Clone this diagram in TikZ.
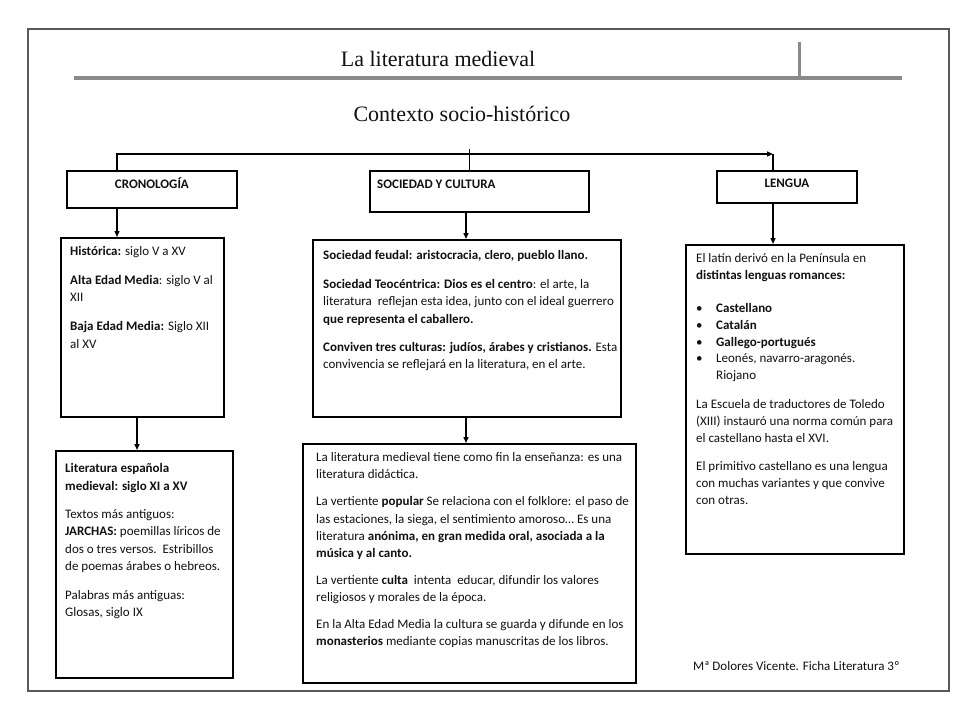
\documentclass[tikz,border=0pt]{standalone}
\usepackage{fontspec}
\setmainfont{Carlito}
\newfontfamily\titlefont{Liberation Serif}
\usetikzlibrary{arrows.meta,calc}
\definecolor{ink}{HTML}{111111}
\definecolor{framegray}{HTML}{5A5A5A}
\definecolor{rulegray}{HTML}{8A8A8A}
\begin{document}
\begin{tikzpicture}[x=1bp,y=-1bp,
  cbox/.style={draw=black, line width=1.8bp, inner sep=0pt, anchor=north west},
  txt/.style={anchor=north west, inner sep=0pt, align=left, text=ink,
    font=\fontsize{13bp}{17.3bp}\selectfont},
  lab/.style={anchor=base, inner sep=0pt, text=ink,
    font=\fontsize{13bp}{15bp}\selectfont\bfseries},
  ttl/.style={anchor=base, inner sep=0pt, text=ink,
    font=\titlefont\fontsize{22bp}{26bp}\selectfont},
  conn/.style={draw=black, line width=1.8bp},
  arr/.style={draw=black, line width=1.4bp, -{Triangle[length=6bp,width=5bp]}},
  thinconn/.style={draw=black, line width=1bp}
]
\useasboundingbox (0,0) rectangle (960,720);
\fill[white] (0,0) rectangle (960,720);

% page frame and header rules
\draw[framegray, line width=1.3bp] (28,29) rectangle (949,691);
\draw[rulegray, line width=4bp] (74,78) -- (902,78);
\draw[rulegray, line width=3bp] (799,42) -- (799,78);

\node[ttl] (title) at (438,67) {La literatura medieval};
\node[ttl] (subtitle) at (462,122) {Contexto socio-histórico};

% header boxes
\node[cbox, minimum width=170bp, minimum height=37bp] (cro) at (66,170) {};
\node[cbox, minimum width=219bp, minimum height=41bp] (soc) at (369,170) {};
\node[cbox, minimum width=140bp, minimum height=32bp] (len) at (716,170) {};
\node[lab] (cro-t) at ([yshift=-18.5bp]cro.north) {CRONOLOGÍA};
\node[lab, anchor=base west] (soc-t) at ([xshift=8bp,yshift=-18.5bp]soc.north west) {SOCIEDAD Y CULTURA};
\node[lab] (len-t) at ([yshift=-17.5bp]len.north) {LENGUA};

% content boxes
\node[cbox, minimum width=163bp, minimum height=179bp] (hist) at (60,237) {};
\node[cbox, minimum width=177bp, minimum height=227bp] (lit) at (55,450) {};
\node[cbox, minimum width=308bp, minimum height=177bp] (mid1) at (312,239) {};
\node[cbox, minimum width=333bp, minimum height=239bp] (mid2) at (302,443) {};
\node[cbox, minimum width=218bp, minimum height=309bp] (lng) at (685,244) {};

\node[txt] (hist-t) at ([xshift=10bp,yshift=-6.5bp]hist.north west) {\strut\textbf{Histórica:} siglo V a XV\\[11.5bp]
\textbf{Alta Edad Media}: siglo V al\\XII\\[11.5bp]
\textbf{Baja Edad Media:} Siglo XII\\al XV};

\node[txt] (lit-t) at ([xshift=10bp,yshift=-10.5bp]lit.north west) {\strut\textbf{Literatura española}\\\textbf{medieval: siglo XI a XV}\\[11bp]
Textos más antiguos:\\\textbf{JARCHAS:} poemillas líricos de\\dos o tres versos.\ \ Estribillos\\de poemas árabes o hebreos.\\[11.5bp]
Palabras más antiguas:\\Glosas, siglo IX};

\node[txt] (mid1-t) at ([xshift=11bp,yshift=-8.5bp]mid1.north west) {\strut\textbf{Sociedad feudal: aristocracia, clero, pueblo llano.}\\[11.5bp]
\textbf{Sociedad Teocéntrica: Dios es el centro}: el arte, la\\literatura\ \ reflejan esta idea, junto con el ideal guerrero\\\textbf{que representa el caballero.}\\[11bp]
\textbf{Conviven tres culturas: judíos, árabes y cristianos.} Esta\\convivencia se reflejará en la literatura, en el arte.};

\node[txt] (mid2-t) at ([xshift=14bp,yshift=-6bp]mid2.north west) {\strut La literatura medieval tiene como fin la enseñanza: es una\\literatura didáctica.\\[10bp]
La vertiente \textbf{popular} Se relaciona con el folklore: el paso de\\las estaciones, la siega, el sentimiento amoroso\dots{} Es una\\literatura \textbf{anónima, en gran medida oral, asociada a la}\\\textbf{música y al canto.}\\[9bp]
La vertiente \textbf{culta}\ \ intenta\ \ educar, difundir los valores\\religiosos y morales de la época.\\[9.5bp]
En la Alta Edad Media la cultura se guarda y difunde en los\\\textbf{monasterios} mediante copias manuscritas de los libros.};

\node[txt, font=\fontsize{13bp}{16.8bp}\selectfont] (lng-t) at ([xshift=11bp,yshift=-7bp]lng.north west) {\strut El latín derivó en la Península en\\\textbf{distintas lenguas romances:}\\[16bp]
\makebox[20bp][l]{\textbullet}\textbf{Castellano}\\
\makebox[20bp][l]{\textbullet}\textbf{Catalán}\\
\makebox[20bp][l]{\textbullet}\textbf{Gallego-portugués}\\
\makebox[20bp][l]{\textbullet}Leonés, navarro-aragonés.\\
\hspace*{20bp}Riojano\\[12bp]
La Escuela de traductores de Toledo\\(XIII) instauró una norma común para\\el castellano hasta el XVI.\\[12bp]
El primitivo castellano es una lengua\\con muchas variantes y que convive\\con otras.};

\node[anchor=base west, inner sep=0pt, text=ink, font=\fontsize{13bp}{15bp}\selectfont] (foot) at (693,670) {Mª Dolores Vicente. Ficha Literatura 3º};

% connectors
\coordinate (xL) at (117,154);
\coordinate (xR) at (773,154);
\coordinate (xM) at (469,149);
\coordinate (xB) at (137,0);
\coordinate (xC) at (466,0);
\draw[conn, -{Triangle[length=6bp,width=5bp]}] (cro.north -| xL) -- (xL) -- (xR);
\draw[conn] (xR) -- (xR |- len.north);
\draw[thinconn] (xM) -- (xM |- soc.north);
\draw[arr] (cro.south -| xL) -- (hist.north -| xL);
\draw[arr] (hist.south -| xB) -- (lit.north -| xB);
\draw[arr] (soc.south -| xC) -- (mid1.north -| xC);
\draw[arr] (mid1.south -| xC) -- (mid2.north -| xC);
\draw[arr] (len.south -| xR) -- (lng.north -| xR);
\end{tikzpicture}
\end{document}
